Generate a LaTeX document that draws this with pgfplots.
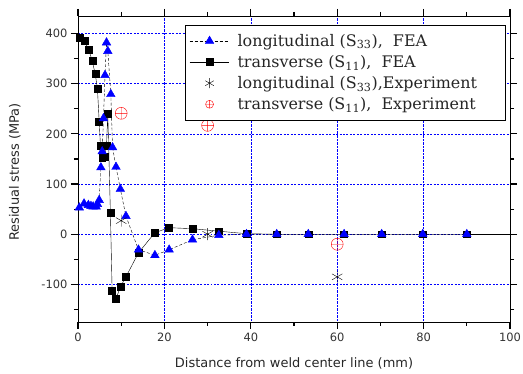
\documentclass[border=0pt]{standalone}
\usepackage{pgfplots}
\pgfplotsset{compat=1.18}
\usepackage{fontspec}
\setmainfont{DejaVu Sans}
\newfontfamily\legfont{DejaVu Serif}
\pgfplotsset{
  longline legend/.style={legend image code/.code={\draw[mark repeat=2,mark phase=2,##1] plot coordinates {(0cm,0cm) (0.7cm,0cm) (1.4cm,0cm)};}},
  singlemark legend/.style={legend image code/.code={\draw[##1] plot coordinates {(0.7cm,0cm)};}},
}
\begin{document}
\begin{tikzpicture}
\begin{axis}[
  width=432bp, height=306bp, scale only axis,
  xmin=0, xmax=100, ymin=-175, ymax=435,
  xtick={0,20,...,100}, ytick={-100,0,...,400},
  minor xtick={10,30,...,90}, minor ytick={-150,-50,...,350},
  tick align=outside, tick pos=both,
  major tick length=7bp, minor tick length=4bp,
  tick style={draw=black, line width=1.1pt},
  xmajorgrids, ymajorgrids,
  x grid style={blue, densely dotted, line width=0.5pt},
  y grid style={blue, dash pattern=on 2pt off 1.5pt, line width=0.5pt},
  axis line style={black, line width=0.8pt},
  /pgf/number format/assume math mode=true,
  tick label style={font=\fontsize{11.5}{13}\selectfont, text=black!80},
  label style={font=\fontsize{13}{15}\selectfont, text=black!85},
  xlabel={Distance from weld center line (mm)},
  ylabel={Residual stress (MPa)},
  xlabel style={at={(axis description cs:0.5,-0.150)}, anchor=base},
  ylabel style={at={(axis description cs:-0.146,0.49)}, anchor=center},
  legend cell align=left,
  legend style={at={(0.248,0.971)}, anchor=north west, draw=black, line width=0.8pt,
    fill=white, font=\legfont\fontsize{16}{18}\selectfont, text=black!85,
    row sep=3.5pt, column sep=6pt, inner xsep=4pt, inner ysep=7pt},
]
\addlegendimage{longline legend, black, densely dashed, thin, mark=triangle*, mark size=5pt, mark options={solid, fill=blue, draw=blue}}
\addlegendentry{longitudinal (S\textsubscript{33}),~ FEA}
\addlegendimage{longline legend, black, solid, thin, mark=square*, mark size=3.5pt, mark options={fill=black}}
\addlegendentry{transverse (S\textsubscript{11}),~ FEA}
\addlegendimage{singlemark legend, black, thin, mark=asterisk, mark size=5pt}
\addlegendentry{longitudinal (S\textsubscript{33}),Experiment\hspace*{22pt}}
\addlegendimage{singlemark legend, red, thin, mark=oplus, mark size=4pt}
\addlegendentry{transverse (S\textsubscript{11}),~ Experiment}

% transverse FEA
\addplot[black, solid, thin, mark=square*, mark size=3.5pt, mark options={fill=black}, forget plot] coordinates {
(0.3,392) (1.5,385) (2.5,368) (3.3,345) (4.0,319) (4.5,290) (4.9,225) (5.2,176)
(5.6,153) (6.2,155) (6.6,177) (6.9,240) (7.5,43) (7.9,-113) (8.8,-129) (9.8,-105)
(11.1,-85) (14.0,-37) (17.8,3) (21.1,13) (26.5,11) (32.6,6) (39,1) (46,0)
(53.3,0) (61.6,0) (70.3,0) (79.8,0) (90,0)
};
\addplot[black, solid, thin, no marks, forget plot] coordinates {(90,0) (100,0)};
% longitudinal FEA
\addplot[black, densely dashed, thin, mark=triangle*, mark size=5pt, mark options={solid, fill=blue, draw=blue}, forget plot] coordinates {
(0.3,53) (1.4,61) (2.4,58) (3.0,56) (3.5,55) (4.2,55) (4.5,60) (4.9,68)
(5.3,133) (5.6,165) (5.9,231) (6.25,317) (6.6,382) (6.9,365) (7.6,279) (8.0,173)
(8.8,134) (9.8,90) (11.1,36) (14.0,-31) (17.8,-42) (21.1,-31) (26.5,-11) (32.6,-2)
(39,0) (46,0) (53.3,0) (61.6,0) (70.3,0) (79.8,0) (90,0)
};
% longitudinal experiment
\addplot[only marks, mark=asterisk, mark size=6pt, black, thin, forget plot] coordinates {
(10,27) (30,0) (60,-85)
};
% transverse experiment
\addplot[only marks, mark=oplus, mark size=6pt, red, thin, forget plot] coordinates {
(10,241) (30,217) (60,-20)
};
\end{axis}
\pgfresetboundingbox
\path[use as bounding box] ([shift={(-78bp,-52bp)}]current axis.south west) rectangle ([shift={(13bp,16bp)}]current axis.north east);
\end{tikzpicture}
\end{document}
